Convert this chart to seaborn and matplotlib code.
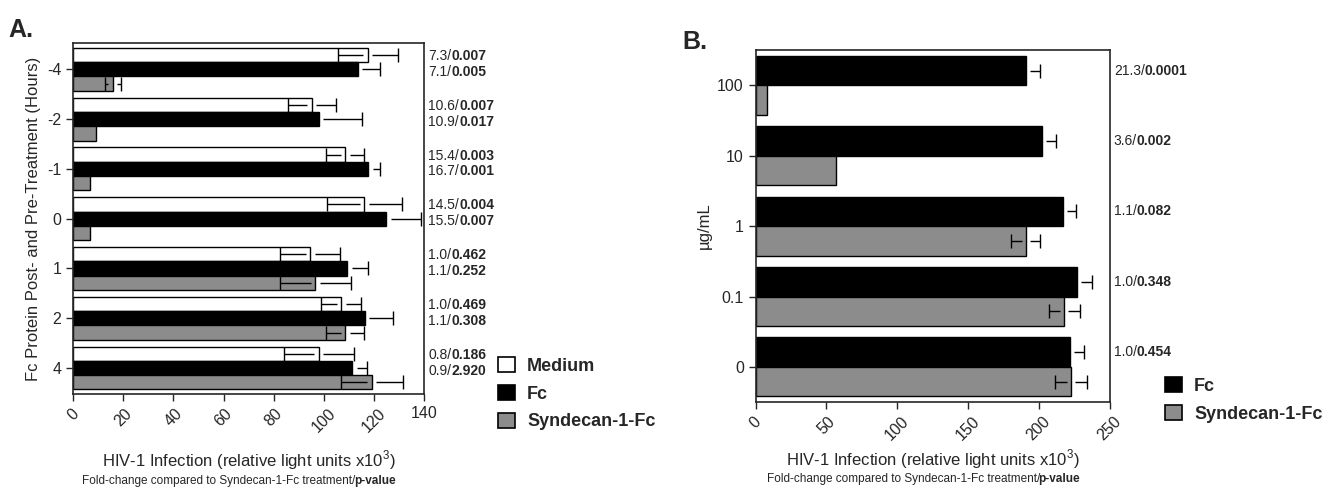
import numpy as np
import pandas as pd
import seaborn as sns
import matplotlib.pyplot as plt
from matplotlib.patches import Patch
import matplotlib.transforms as mtransforms

#%% data

# panel A: hours of Fc protein post/pre treatment
hours = ["-4", "-2", "-1", "0", "1", "2", "4"]
medium_a = [117.5, 95.2, 108.5, 116.1, 94.6, 106.9, 98.0]
medium_a_err = [12.0, 9.7, 7.5, 15.0, 12.0, 8.0, 14.0]
fc_a = [113.5, 98.0, 117.7, 124.9, 109.3, 116.2, 111.3]
fc_a_err = [8.7, 17.3, 4.5, 13.7, 8.2, 11.3, 6.0]
syn_a = [15.9, 9.0, 6.9, 6.9, 96.6, 108.5, 119.1]
syn_a_err = [3.3, np.nan, np.nan, np.nan, 14.0, 7.5, 12.4]

medium_fold = ["7.3", "10.6", "15.4", "14.5", "1.0", "1.0", "0.8"]
medium_p = ["0.007", "0.007", "0.003", "0.004", "0.462", "0.469", "0.186"]
fc_fold = ["7.1", "10.9", "16.7", "15.5", "1.1", "1.1", "0.9"]
fc_p = ["0.005", "0.017", "0.001", "0.007", "0.252", "0.308", "2.920"]

# panel B: dose in ug/mL
doses = ["100", "10", "1", "0.1", "0"]
fc_b = [190.9, 202.4, 217.3, 226.7, 222.0]
fc_b_err = [10.0, 9.6, 9.0, 11.0, 10.0]
syn_b = [8.2, 56.7, 190.6, 218.0, 222.7]
syn_b_err = [np.nan, np.nan, 10.0, 11.0, 11.0]

fold_b = ["21.3", "3.6", "1.1", "1.0", "1.0"]
p_b = ["0.0001", "0.002", "0.082", "0.348", "0.454"]

treatments_a = ["Medium", "Fc", "Syndecan-1-Fc"]
treatments_b = ["Fc", "Syndecan-1-Fc"]
colors = {"Medium": "white", "Fc": "black", "Syndecan-1-Fc": "#8c8c8c"}

df_a = pd.DataFrame({
    "hours": hours * 3,
    "value": medium_a + fc_a + syn_a,
    "err": medium_a_err + fc_a_err + syn_a_err,
    "treatment": np.repeat(treatments_a, len(hours)),
})
df_b = pd.DataFrame({
    "dose": doses * 2,
    "value": fc_b + syn_b,
    "err": fc_b_err + syn_b_err,
    "treatment": np.repeat(treatments_b, len(doses)),
})

#%% plot
sns.set_style("ticks")
plt.rcParams["font.family"] = ["Liberation Sans", "DejaVu Sans"]
plt.rcParams["mathtext.fontset"] = "custom"
plt.rcParams["mathtext.rm"] = "Liberation Sans"
small = ["Liberation Sans", "DejaVu Sans"]

fig = plt.figure(figsize=(13.41, 4.91), dpi=100)
ax_a = fig.add_axes([0.0544, 0.1976, 0.262, 0.714])
ax_b = fig.add_axes([0.5635, 0.181, 0.264, 0.717])


def draw_panel(ax, df, ycol, order, hue_order, width, gap):
    sns.barplot(data=df, x="value", y=ycol, hue="treatment", order=order,
                hue_order=hue_order, palette=colors, orient="h", width=width,
                edgecolor="black", linewidth=1.0, legend=False, ax=ax,
                saturation=1, errorbar=None)
    centers = {}
    for cont, trt in zip(ax.containers, hue_order):
        sub = df[df["treatment"] == trt].set_index(ycol).loc[order]
        ys = np.array([p.get_y() + p.get_height() / 2 for p in cont.patches])
        xs = np.array([p.get_width() for p in cont.patches])
        centers[trt] = ys
        errs = sub["err"].values
        ok = ~np.isnan(errs)
        x, y, e = xs[ok], ys[ok], errs[ok]
        # error bars drawn with a small break at the bar end, like the original
        ax.hlines(y, x - e, x - gap, color="black", lw=1.0, zorder=3)
        ax.hlines(y, x + gap, x + e, color="black", lw=1.0, zorder=3)
        ax.plot(x - e, y, ls="none", marker="|", ms=10, mew=1.0, color="black", zorder=3)
        ax.plot(x + e, y, ls="none", marker="|", ms=10, mew=1.0, color="black", zorder=3)
    for s in ax.spines.values():
        s.set_visible(True)
        s.set_linewidth(1.2)
    ax.tick_params(axis="both", direction="out", length=5, width=1.0,
                   labelsize=11.5)
    for lab in ax.get_xticklabels():
        lab.set_rotation(45)
        lab.set_ha("center")
        lab.set_va("top")
    return centers


def two_part(ax, y, plain, bold):
    trans = mtransforms.blended_transform_factory(ax.transAxes, ax.transData)
    t = ax.text(1.0, y, plain, transform=trans, ha="left", va="center",
                fontsize=10, family=small)
    t.set_transform(trans + mtransforms.ScaledTranslation(3 / 72, 0, fig.dpi_scale_trans))
    ax.annotate(bold, xy=(1, 0), xycoords=t, ha="left", va="bottom",
                fontsize=10, family=small, fontweight="bold")


cen_a = draw_panel(ax_a, df_a, "hours", hours, treatments_a, 0.86, 1.8)
ax_a.set_xlim(0, 140)
ax_a.set_xticks(np.arange(0, 141, 20))
ax_a.set_ylim(6.52, -0.52)
ax_a.set_xlabel("")
ax_a.set_ylabel("Fc Protein Post- and Pre-Treatment (Hours)", fontsize=12)
for i in range(len(hours)):
    two_part(ax_a, cen_a["Medium"][i] + 0.02, medium_fold[i] + "/", medium_p[i])
    two_part(ax_a, cen_a["Fc"][i] + 0.05, fc_fold[i] + "/", fc_p[i])

cen_b = draw_panel(ax_b, df_b, "dose", doses, treatments_b, 0.84, 2.8)
ax_b.set_xlim(0, 250)
ax_b.set_xticks(np.arange(0, 251, 50))
ax_b.set_ylim(4.5, -0.5)
ax_b.set_xlabel("")
ax_b.set_ylabel("µg/mL", fontsize=12)
for i in range(len(doses)):
    two_part(ax_b, cen_b["Fc"][i], fold_b[i] + "/", p_b[i])

# x labels, two lines
for ax, y1, y2 in [(ax_a, 460, 481), (ax_b, 459, 479)]:
    xc = (ax.get_position().x0 + ax.get_position().x1) / 2
    fig.text(xc, 1 - y1 / 491, "HIV-1 Infection (relative light units x10$^{3}$)",
             ha="center", va="center", fontsize=12)
    t = fig.text(xc - 0.022, 1 - y2 / 491, "Fold-change compared to Syndecan-1-Fc treatment/",
                 ha="center", va="center", fontsize=8.5, family=small)
    ax.annotate("p-value", xy=(1, 0), xycoords=t, xytext=(-1, 0),
                textcoords="offset points", ha="left", va="bottom",
                fontsize=8.5, family=small, fontweight="bold")

# legends
def legend_handles(names):
    return [Patch(facecolor=colors[n], edgecolor="black", linewidth=1.2, label=n)
            for n in names]

fig.legend(handles=legend_handles(treatments_a), loc="upper left",
           bbox_to_anchor=(482 / 1341, 1 - 341 / 491), frameon=False,
           handlelength=0.9, handleheight=0.9, labelspacing=0.55,
           handletextpad=0.7, prop={"size": 13, "weight": "bold"})
fig.legend(handles=legend_handles(treatments_b), loc="upper left",
           bbox_to_anchor=(1149 / 1341, 1 - 361 / 491), frameon=False,
           handlelength=0.9, handleheight=0.9, labelspacing=0.55,
           handletextpad=0.7, prop={"size": 13, "weight": "bold"})

fig.text(8 / 1341, 1 - 30 / 491, "A.", fontsize=18, fontweight="bold", va="center")
fig.text(682 / 1341, 1 - 42 / 491, "B.", fontsize=18, fontweight="bold", va="center")

fig.savefig("out.png", dpi=100)
